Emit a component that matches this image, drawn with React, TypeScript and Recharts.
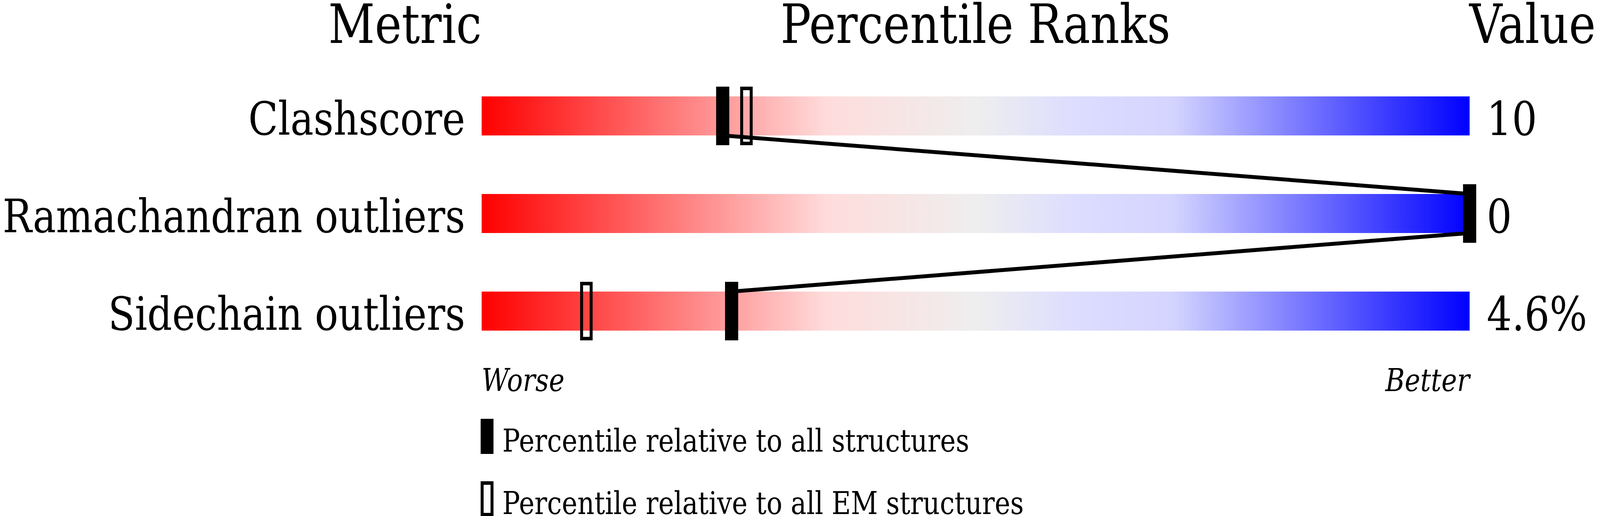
import React from "react";
import { Bar, ComposedChart, LabelList, Scatter, XAxis, YAxis } from "recharts";

const metrics = ["Clashscore", "Ramachandran outliers", "Sidechain outliers"];
const valueLabels = ["10", "0", "4.6%"];
const absolutePercentile = [24.4, 100, 25.3];
const emPercentile = [26.8, 100, 10.6];
const scaleEnds = ["Worse", "Better"];
const headers = ["Metric", "Percentile Ranks", "Value"];
const legendLabels = [
    "Percentile relative to all structures",
    "Percentile relative to all EM structures",
];

const W = 4860;
const H = 1322;
const FONT = '"DejaVu Serif", serif';

const rows = metrics.map((metric, i) => ({
    metric,
    row: i,
    full: 100,
    valueText: valueLabels[i],
    abs: absolutePercentile[i],
    em: emPercentile[i],
}));

// the link runs from the bottom of one bar to the top of the next
const HALF = 0.2;
const link: { abs: number; row: number }[] = [];
absolutePercentile.forEach((p, i) => {
    if (i > 0) link.push({ abs: p, row: i - HALF });
    if (i < absolutePercentile.length - 1) link.push({ abs: p, row: i + HALF });
});

const FilledMarker = (props: any) => {
    const { cx, cy } = props;
    return <rect x={cx - 20} y={cy - 75} width={40} height={150} fill="#000" />;
};

const OpenMarker = (props: any) => {
    const { cx, cy } = props;
    return (
        <rect x={cx - 14.5} y={cy - 70.5} width={29} height={141} fill="none" stroke="#000" strokeWidth={9} />
    );
};

const NoDot = () => <g />;

const MetricTick = (props: any) => {
    const { x, y, payload } = props;
    return (
        <text x={x} y={y + 48} textAnchor="end" fontFamily={FONT} fontSize={118} fill="#000">
            {payload.value}
        </text>
    );
};

const EndTick = (props: any) => {
    const { x, y, payload } = props;
    const isLow = payload.value === 0;
    return (
        <text
            x={x}
            y={y + 20}
            textAnchor={isLow ? "start" : "end"}
            fontFamily={FONT}
            fontStyle="italic"
            fontSize={80}
            fill="#000"
        >
            {isLow ? scaleEnds[0] : scaleEnds[1]}
        </text>
    );
};

const ValueLabel = (props: any) => {
    const { x, y, width, height, value } = props;
    return (
        <text x={x + width + 52} y={y + height - 1} fontFamily={FONT} fontSize={120} fill="#000">
            {value}
        </text>
    );
};

export default function App() {
    // the visible page can be narrower than the drawing, so squeeze it to fit
    const sx = typeof window !== "undefined" ? Math.min(1, window.innerWidth / W) : 1;
    return (
        <div style={{ position: "fixed", left: 0, top: 0, width: "100vw", height: "100vh", overflow: "hidden", background: "#fff" }}>
            <div
                style={{
                    position: "absolute",
                    left: 0,
                    top: 0,
                    width: W,
                    height: H,
                    transform: `scaleX(${sx})`,
                    transformOrigin: "0 0",
                }}
            >
                <ComposedChart
                    width={W}
                    height={H}
                    data={rows}
                    layout="vertical"
                    margin={{ top: 172, right: 396, bottom: 300, left: 0 }}
                >
                    <defs>
                        <linearGradient id="slider" x1="0" y1="0" x2="1" y2="0">
                            <stop offset="0" stopColor="#ff0000" />
                            <stop offset="0.35" stopColor="#ffdcdc" />
                            <stop offset="0.5" stopColor="#eeeeee" />
                            <stop offset="0.6" stopColor="#ddddff" />
                            <stop offset="0.7" stopColor="#d4d4ff" />
                            <stop offset="1" stopColor="#0000ff" />
                        </linearGradient>
                    </defs>
                    <XAxis
                        xAxisId="pct"
                        type="number"
                        domain={[0, 100]}
                        ticks={[0, 100]}
                        axisLine={false}
                        tickLine={false}
                        tickSize={0}
                        tickMargin={0}
                        height={100}
                        tick={<EndTick />}
                    />
                    <XAxis xAxisId="abs" dataKey="abs" type="number" domain={[0, 100]} hide />
                    <XAxis xAxisId="em" dataKey="em" type="number" domain={[0, 100]} hide />
                    <YAxis
                        yAxisId="cat"
                        type="category"
                        dataKey="metric"
                        width={1463}
                        axisLine={false}
                        tickLine={false}
                        tickSize={0}
                        tickMargin={50}
                        tick={<MetricTick />}
                    />
                    <YAxis yAxisId="row" dataKey="row" type="number" domain={[-0.5, 2.5]} hide />
                    <Bar
                        xAxisId="pct"
                        yAxisId="cat"
                        dataKey="full"
                        barSize={100}
                        fill="url(#slider)"
                        isAnimationActive={false}
                    >
                        <LabelList dataKey="valueText" content={<ValueLabel />} />
                    </Bar>
                    <Scatter
                        data={link}
                        xAxisId="abs"
                        yAxisId="row"
                        line={{ stroke: "#000", strokeWidth: 10 }}
                        shape={<NoDot />}
                        isAnimationActive={false}
                    />
                    <Scatter xAxisId="em" yAxisId="row" shape={<OpenMarker />} isAnimationActive={false} />
                    <Scatter xAxisId="abs" yAxisId="row" shape={<FilledMarker />} isAnimationActive={false} />
                </ComposedChart>
                <svg
                    width={W}
                    height={H}
                    style={{ position: "absolute", left: 0, top: 0, pointerEvents: "none" }}
                >
                    <g fontFamily={FONT} fontSize={138} fill="#000">
                        <text x={1463} y={110} textAnchor="end">{headers[0]}</text>
                        <text x={2963} y={110} textAnchor="middle">{headers[1]}</text>
                        <text x={4463} y={110} textAnchor="start">{headers[2]}</text>
                    </g>
                    <rect x={1460} y={1073} width={39} height={90} fill="#000" />
                    <text x={1526} y={1157} fontFamily={FONT} fontSize={80} fill="#000">{legendLabels[0]}</text>
                    <rect x={1464.5} y={1237.5} width={30} height={81} fill="none" stroke="#000" strokeWidth={9} />
                    <text x={1526} y={1317} fontFamily={FONT} fontSize={80} fill="#000">{legendLabels[1]}</text>
                </svg>
            </div>
        </div>
    );
}
